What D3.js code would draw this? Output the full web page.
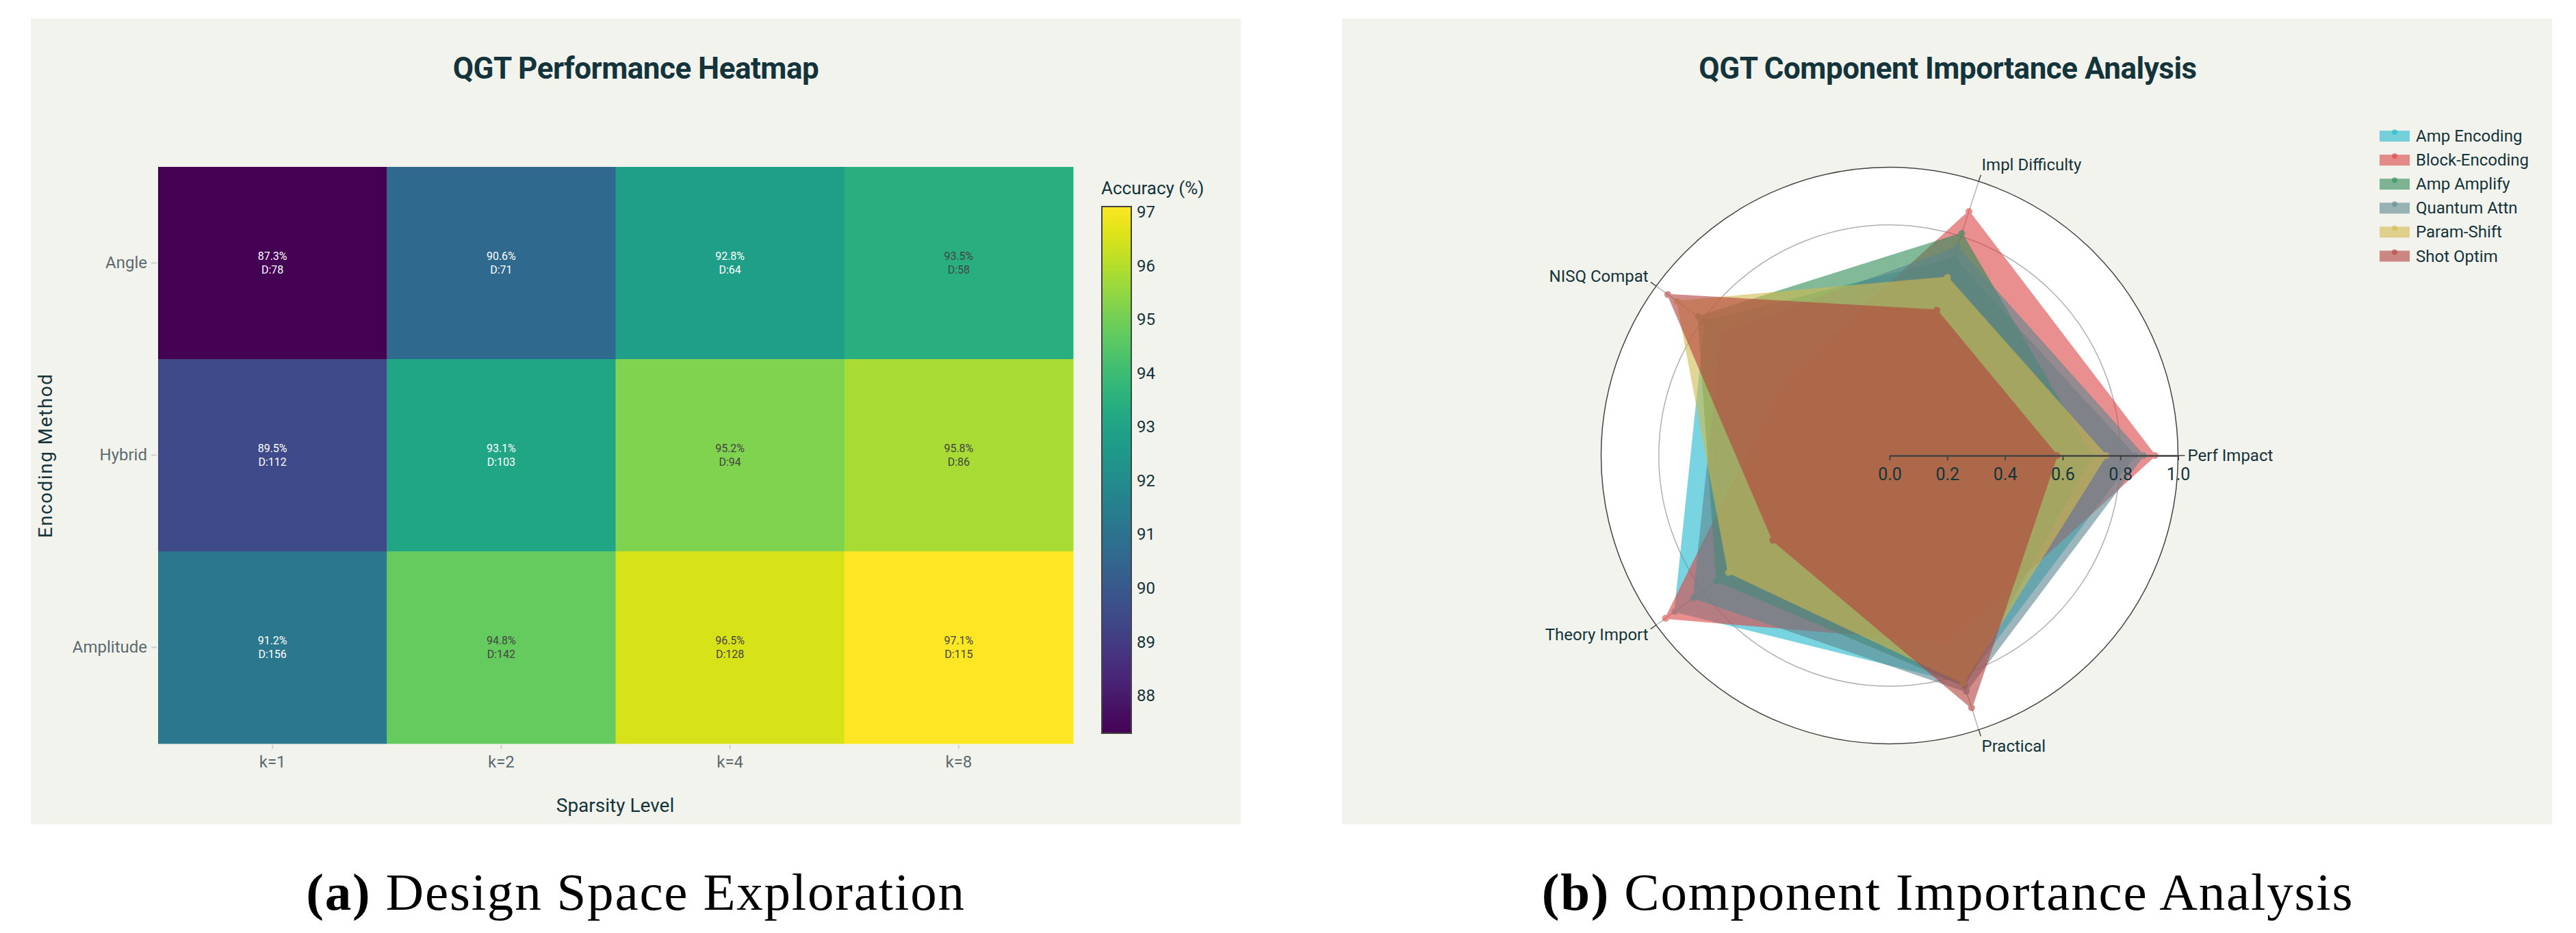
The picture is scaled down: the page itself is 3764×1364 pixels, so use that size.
<!DOCTYPE html>
<html>
<head>
<meta charset="utf-8">
<script src="https://cdn.jsdelivr.net/npm/d3@7"></script>
<style>
  body { margin: 0; background: #fff; }
  svg text { font-family: Roboto, "Noto Sans", sans-serif; }
</style>
</head>
<body>
<div id="chart"></div>
<script>
// Heatmap data
const encodings = ['Angle', 'Hybrid', 'Amplitude'];
const sparsity = ['k=1', 'k=2', 'k=4', 'k=8'];
const accuracy = [
    [87.3, 90.6, 92.8, 93.5],
    [89.5, 93.1, 95.2, 95.8],
    [91.2, 94.8, 96.5, 97.1]
];
const depth = [
    [78, 71, 64, 58],
    [112, 103, 94, 86],
    [156, 142, 128, 115]
];
const colorbarTicks = [88, 89, 90, 91, 92, 93, 94, 95, 96, 97];

// Radar data
const categories = ['Perf Impact', 'Impl Difficulty', 'NISQ Compat', 'Theory Import', 'Practical'];
const components = ['Amp Encoding', 'Block-Encoding', 'Amp Amplify', 'Quantum Attn', 'Param-Shift', 'Shot Optim'];
const ampEncoding = [0.85, 0.72, 0.79, 0.92, 0.83];
const blockEncoding = [0.92, 0.89, 0.45, 0.96, 0.68];
const ampAmplify = [0.70, 0.81, 0.82, 0.74, 0.84];
const quantumAttn = [0.88, 0.76, 0.72, 0.84, 0.86];
const paramShift = [0.75, 0.65, 0.91, 0.69, 0.83];
const shotOptim = [0.58, 0.53, 0.95, 0.50, 0.92];
const radialTicks = [0, 0.2, 0.4, 0.6, 0.8, 1.0];

const componentColors = ['#1FB8CD', '#DB4545', '#2E8B57', '#5D878F', '#D2BA4C', '#B4413C'];
const panelBg = '#f3f3ee';
const darkText = '#13343b';
const greyText = '#5b6a6e';

const svg = d3.select('#chart')
    .append('svg')
    .attr('width', 3764)
    .attr('height', 1364);

svg.append('rect').attr('width', 3764).attr('height', 1364).attr('fill', '#fff');

// ---------- (a) heatmap ----------
const left = svg.append('g');
left.append('rect')
    .attr('x', 45).attr('y', 27).attr('width', 1768).attr('height', 1178)
    .attr('fill', panelBg);

left.append('text')
    .attr('x', 929).attr('y', 100)
    .attr('text-anchor', 'middle').attr('dominant-baseline', 'central')
    .attr('font-size', 44).attr('font-weight', 700).attr('fill', darkText)
    .attr('letter-spacing', -0.5)
    .text('QGT Performance Heatmap');

const x = d3.scaleBand().domain(sparsity).range([231, 1568]);
const y = d3.scaleBand().domain(encodings).range([244, 1087]);
const allAcc = accuracy.flat();
const color = d3.scaleSequential(d3.interpolateViridis).domain(d3.extent(allAcc));

const cells = [];
encodings.forEach((enc, i) => {
    sparsity.forEach((k, j) => {
        cells.push({ enc: enc, k: k, acc: accuracy[i][j], depth: depth[i][j] });
    });
});

const cell = left.selectAll('.cell')
    .data(cells)
    .enter()
    .append('g')
    .attr('class', 'cell');

cell.append('rect')
    .attr('x', d => x(d.k))
    .attr('y', d => y(d.enc))
    .attr('width', x.bandwidth() + 0.5)
    .attr('height', y.bandwidth() + 0.5)
    .attr('fill', d => color(d.acc));

function labelColor(d) {
    return d3.lab(color(d.acc)).l > 62 ? '#444' : '#fff';
}

cell.append('text')
    .attr('x', d => x(d.k) + x.bandwidth() / 2)
    .attr('y', d => y(d.enc) + y.bandwidth() / 2 - 10)
    .attr('text-anchor', 'middle').attr('dominant-baseline', 'central')
    .attr('font-size', 16).attr('fill', labelColor)
    .text(d => d.acc.toFixed(1) + '%');

cell.append('text')
    .attr('x', d => x(d.k) + x.bandwidth() / 2)
    .attr('y', d => y(d.enc) + y.bandwidth() / 2 + 10)
    .attr('text-anchor', 'middle').attr('dominant-baseline', 'central')
    .attr('font-size', 16).attr('fill', labelColor)
    .text(d => 'D:' + d.depth);

// axes
const yAxis = left.append('g')
    .attr('transform', 'translate(229,0)')
    .call(d3.axisLeft(y).tickSize(8).tickPadding(6));
const xAxis = left.append('g')
    .attr('transform', 'translate(0,1089)')
    .call(d3.axisBottom(x).tickSize(6).tickPadding(10));

[xAxis, yAxis].forEach(ax => {
    ax.select('.domain').remove();
    ax.selectAll('.tick line').attr('stroke', '#cfcfcf').attr('stroke-width', 2);
    ax.selectAll('.tick text').attr('font-size', 24).attr('fill', greyText)
        .attr('font-family', 'Roboto, sans-serif');
});

left.append('text')
    .attr('x', 899).attr('y', 1177)
    .attr('text-anchor', 'middle').attr('dominant-baseline', 'central')
    .attr('font-size', 28).attr('fill', darkText)
    .text('Sparsity Level');

left.append('text')
    .attr('transform', 'translate(66,666) rotate(-90)')
    .attr('text-anchor', 'middle').attr('dominant-baseline', 'central')
    .attr('font-size', 28).attr('fill', darkText)
    .attr('letter-spacing', 1.5)
    .text('Encoding Method');

// colorbar
const cbScale = d3.scaleLinear().domain(color.domain()).range([1072, 302]);
const grad = svg.append('defs').append('linearGradient')
    .attr('id', 'viridis')
    .attr('x1', 0).attr('y1', 1).attr('x2', 0).attr('y2', 0);
d3.range(0, 1.0001, 0.05).forEach(t => {
    grad.append('stop').attr('offset', t).attr('stop-color', d3.interpolateViridis(t));
});

left.append('rect')
    .attr('x', 1610).attr('y', 302).attr('width', 43).attr('height', 770)
    .attr('fill', 'url(#viridis)')
    .attr('stroke', '#444').attr('stroke-width', 2);

const cbAxis = left.append('g')
    .attr('transform', 'translate(1653,0)')
    .call(d3.axisRight(cbScale).tickValues(colorbarTicks).tickSize(0).tickPadding(8));
cbAxis.select('.domain').remove();
cbAxis.selectAll('.tick text').attr('font-size', 24).attr('fill', darkText)
    .attr('font-family', 'Roboto, sans-serif');

left.append('text')
    .attr('x', 1609).attr('y', 275)
    .attr('dominant-baseline', 'central')
    .attr('font-size', 26).attr('fill', darkText)
    .text('Accuracy (%)');

// ---------- (b) radar ----------
const right = svg.append('g');
right.append('rect')
    .attr('x', 1961).attr('y', 27).attr('width', 1768).attr('height', 1178)
    .attr('fill', panelBg);

right.append('text')
    .attr('x', 2846).attr('y', 100)
    .attr('text-anchor', 'middle').attr('dominant-baseline', 'central')
    .attr('font-size', 44).attr('font-weight', 700).attr('fill', darkText)
    .attr('letter-spacing', -0.5)
    .text('QGT Component Importance Analysis');

const cx = 2761, cy = 666, R = 421.5;
const r = d3.scaleLinear().domain([0, 1]).range([0, R]);
const theta = i => i * 2 * Math.PI / categories.length;
const px = (i, v) => cx + r(v) * Math.cos(theta(i));
const py = (i, v) => cy - r(v) * Math.sin(theta(i));

right.append('circle')
    .attr('cx', cx).attr('cy', cy).attr('r', R)
    .attr('fill', '#fff');

right.selectAll('.grid')
    .data(radialTicks.filter(t => t > 0 && t < 1))
    .enter()
    .append('circle')
    .attr('cx', cx).attr('cy', cy)
    .attr('r', d => r(d))
    .attr('fill', 'none').attr('stroke', '#b0b0b0').attr('stroke-width', 1.5);

right.selectAll('.spoke')
    .data(categories)
    .enter()
    .append('line')
    .attr('x1', cx).attr('y1', cy)
    .attr('x2', (d, i) => px(i, 1)).attr('y2', (d, i) => py(i, 1))
    .attr('stroke', '#b0b0b0').attr('stroke-width', 1.5);

const series = [ampEncoding, blockEncoding, ampAmplify, quantumAttn, paramShift, shotOptim];

const shape = d3.line()
    .x((v, i) => px(i, v))
    .y((v, i) => py(i, v))
    .curve(d3.curveLinearClosed);

const trace = right.selectAll('.trace')
    .data(series)
    .enter()
    .append('g')
    .attr('class', 'trace')
    .attr('opacity', 0.6);

trace.append('path')
    .attr('d', d => shape(d))
    .attr('fill', (d, i) => componentColors[i])
    .attr('stroke', (d, i) => componentColors[i])
    .attr('stroke-width', 2)
    .attr('stroke-linejoin', 'round');

trace.each(function (d, s) {
    d3.select(this).selectAll('circle')
        .data(d)
        .enter()
        .append('circle')
        .attr('cx', (v, i) => px(i, v))
        .attr('cy', (v, i) => py(i, v))
        .attr('r', 5)
        .attr('fill', componentColors[s]);
});

// outer ring and angular ticks
right.append('circle')
    .attr('cx', cx).attr('cy', cy).attr('r', R)
    .attr('fill', 'none').attr('stroke', '#444').attr('stroke-width', 1.5);

right.selectAll('.atick')
    .data(categories)
    .enter()
    .append('line')
    .attr('x1', (d, i) => px(i, 1)).attr('y1', (d, i) => py(i, 1))
    .attr('x2', (d, i) => cx + (R + 10) * Math.cos(theta(i)))
    .attr('y2', (d, i) => cy - (R + 10) * Math.sin(theta(i)))
    .attr('stroke', '#444').attr('stroke-width', 1.5);

right.selectAll('.alabel')
    .data(categories)
    .enter()
    .append('text')
    .attr('x', (d, i) => cx + (R + 14) * Math.cos(theta(i)))
    .attr('y', (d, i) => cy - (R + 10) * Math.sin(theta(i)) - 15 * Math.sin(theta(i)))
    .attr('text-anchor', (d, i) => {
        const c = Math.cos(theta(i));
        return c > 0.01 ? 'start' : (c < -0.01 ? 'end' : 'middle');
    })
    .attr('dominant-baseline', 'central')
    .attr('font-size', 24).attr('fill', darkText)
    .text(d => d);

// radial axis along Perf Impact
const rAxis = right.append('g')
    .attr('transform', `translate(${cx},${cy})`)
    .call(d3.axisBottom(r).tickValues(radialTicks).tickFormat(d3.format('.1f'))
        .tickSize(7).tickSizeOuter(0).tickPadding(11));
rAxis.select('.domain').attr('stroke', '#444').attr('stroke-width', 2.5);
rAxis.selectAll('.tick line').attr('stroke', '#444').attr('stroke-width', 2);
rAxis.selectAll('.tick text').attr('font-size', 25).attr('fill', darkText)
    .attr('font-family', 'Roboto, sans-serif');

// legend
const legend = right.selectAll('.legend')
    .data(components)
    .enter()
    .append('g')
    .attr('class', 'legend')
    .attr('transform', (d, i) => `translate(3478,${199 + i * 35.1})`);

legend.append('rect')
    .attr('x', 0).attr('y', -7).attr('width', 42).attr('height', 14)
    .attr('fill', (d, i) => componentColors[i])
    .attr('stroke', (d, i) => componentColors[i])
    .attr('stroke-width', 2)
    .attr('opacity', 0.6);

legend.append('circle')
    .attr('cx', 21).attr('cy', -6).attr('r', 4)
    .attr('fill', (d, i) => componentColors[i])
    .attr('opacity', 0.6);

legend.append('text')
    .attr('x', 52).attr('y', 0)
    .attr('dominant-baseline', 'central')
    .attr('font-size', 24).attr('fill', darkText)
    .text(d => d);

// ---------- captions ----------
const captions = [
    { tag: '(a)', label: ' Design Space Exploration', x: 929 },
    { tag: '(b)', label: ' Component Importance Analysis', x: 2846 }
];
const cap = svg.selectAll('.caption')
    .data(captions)
    .enter()
    .append('text')
    .attr('x', d => d.x).attr('y', 1330)
    .attr('text-anchor', 'middle')
    .attr('font-size', 77)
    .attr('letter-spacing', 1.8)
    .attr('fill', '#000')
    .style('font-family', '"Liberation Serif", "DejaVu Serif", serif');
cap.append('tspan').attr('font-weight', 700).text(d => d.tag);
cap.append('tspan').text(d => d.label);
</script>
</body>
</html>
